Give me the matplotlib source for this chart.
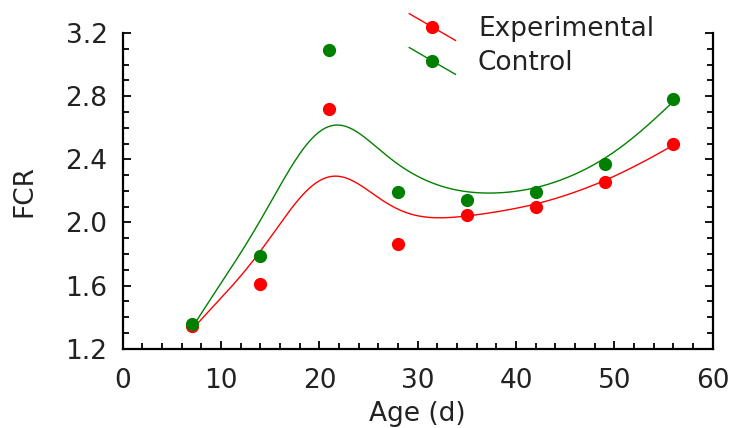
import numpy as np
import matplotlib
matplotlib.use("Agg")
import matplotlib.pyplot as plt
from matplotlib.lines import Line2D
from matplotlib.legend_handler import HandlerLine2D
from matplotlib.ticker import MultipleLocator, FormatStrFormatter

age = [7, 14, 21, 28, 35, 42, 49, 56]
experimental = [1.345, 1.61, 2.72, 1.865, 2.045, 2.10, 2.255, 2.495]
control = [1.355, 1.785, 3.09, 2.19, 2.145, 2.19, 2.37, 2.78]
series_names = ["Experimental", "Control"]
series_colors = ["#ff0000", "#008000"]


def dwls(x, y, xs, h=10.5):
    """Distance-weighted local quadratic least squares smoother."""
    x = np.asarray(x, float)
    y = np.asarray(y, float)
    out = []
    for x0 in xs:
        t = x - x0
        w = 1.0 / (1.0 + (t / h) ** 2) ** 2
        A = np.vstack([np.ones_like(t), t, t ** 2]).T
        W = np.diag(w)
        coef = np.linalg.solve(A.T @ W @ A, A.T @ W @ y)
        out.append(coef[0])
    return np.array(out)


class SlantHandler(HandlerLine2D):
    def create_artists(self, legend, orig_handle, xdescent, ydescent,
                       width, height, fontsize, trans):
        x0, x1 = -xdescent, width - xdescent
        yc = height / 2 - ydescent
        dy = 0.58 * width / 2
        line = Line2D([x0, x1], [yc + dy, yc - dy], color=orig_handle.get_color(),
                      lw=orig_handle.get_linewidth(), transform=trans)
        mk = Line2D([(x0 + x1) / 2], [yc], marker="o", ls="none",
                    color=orig_handle.get_color(),
                    markersize=orig_handle.get_markersize(), transform=trans)
        return [line, mk]


plt.rcParams["font.family"] = ["DejaVu Sans"]
fig = plt.figure(figsize=(7.31, 4.28), dpi=100)
ax = fig.add_axes([0.168, 0.185, 0.807, 0.738])

xs = np.linspace(min(age), max(age), 300)
handles = []
for vals, name, col in zip([experimental, control], series_names, series_colors):
    ax.plot(xs, dwls(age, vals, xs), color=col, lw=1.0)
    ax.plot(age, vals, "o", color=col, markersize=8.5, zorder=3)
    handles.append(Line2D([], [], color=col, lw=1.0, marker="o", markersize=8.5, label=name))

ax.set_xlim(0, 60)
ax.set_ylim(1.2, 3.2)
ax.xaxis.set_major_locator(MultipleLocator(10))
ax.xaxis.set_minor_locator(MultipleLocator(2))
ax.yaxis.set_major_locator(MultipleLocator(0.4))
ax.yaxis.set_minor_locator(MultipleLocator(0.1))
ax.yaxis.set_major_formatter(FormatStrFormatter("%.1f"))

ax.spines["top"].set_visible(False)
for s in ["left", "right", "bottom"]:
    ax.spines[s].set_linewidth(1.6)
    ax.spines[s].set_color("black")
ax.tick_params(which="both", direction="in", right=True, top=False, width=1.3,
               labelsize=19, labelcolor="#222222")
ax.tick_params(which="major", length=6)
ax.tick_params(which="minor", length=4)
ax.tick_params(axis="x", which="both", pad=14)
ax.tick_params(axis="y", which="both", pad=11)

ax.set_xlabel("Age (d)", fontsize=19, color="#222222", labelpad=5)
ax.set_ylabel("FCR", fontsize=19, color="#222222", labelpad=20)

leg = fig.legend(handles=handles, loc="upper left", bbox_to_anchor=(404 / 731, 1 - 11 / 428),
                 bbox_transform=fig.transFigure, frameon=False, fontsize=19,
                 handlelength=1.75, handletextpad=0.85, labelspacing=0.3,
                 borderpad=0.2, borderaxespad=0.0,
                 handler_map={Line2D: SlantHandler()})
for t in leg.get_texts():
    t.set_color("#222222")

fig.savefig("out.png", dpi=100)
